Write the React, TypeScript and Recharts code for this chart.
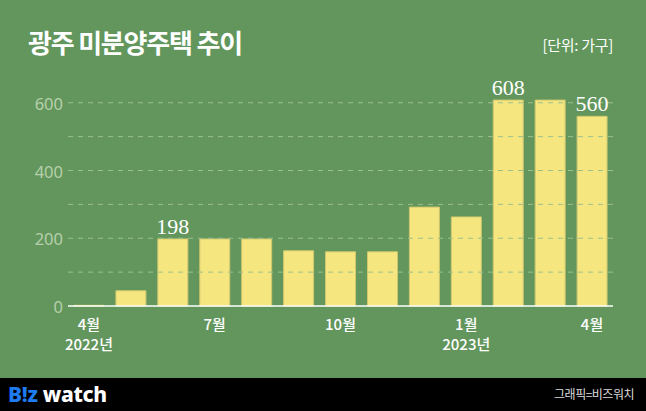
import { Bar, BarChart, LabelList, ReferenceLine, XAxis, YAxis } from "recharts";

const months = ["4월", "5월", "6월", "7월", "8월", "9월", "10월", "11월", "12월", "1월", "2월", "3월", "4월"];
const years = ["2022년", "", "", "", "", "", "", "", "", "2023년", "", "", ""];
const shownTicks = [true, false, false, true, false, false, true, false, false, true, false, false, true];
const units = [2, 45, 198, 198, 198, 163, 160, 160, 292, 263, 608, 608, 560];
const valueLabels = ["", "", "198", "", "", "", "", "", "", "", "608", "", "560"];
const gridTicks = [100, 200, 300, 400, 500, 600];
const yLabelTicks = [0, 200, 400, 600];

const data = months.map((m, i) => ({
  key: String(i),
  month: m,
  year: years[i],
  units: units[i],
  label: valueLabels[i],
}));

const BG = "#62965c";
const BAR = "#f5e680";

function MonthTick(props: any) {
  const { x, y, payload } = props;
  const i = payload.index;
  if (!shownTicks[i]) return null;
  return (
    <g>
      <text x={x} y={y + 16} textAnchor="middle" fill="#ffffff" fontSize={15} fontWeight={500}
        fontFamily="'Noto Sans CJK KR', 'Noto Sans', sans-serif">
        {months[i]}
      </text>
      {years[i] && (
        <text x={x} y={y + 36} textAnchor="middle" fill="#ffffff" fontSize={15} fontWeight={500}
          fontFamily="'Noto Sans CJK KR', 'Noto Sans', sans-serif">
          {years[i]}
        </text>
      )}
    </g>
  );
}

function ValueTick(props: any) {
  const { x, y, payload } = props;
  return (
    <text x={x + 3} y={y + 7} textAnchor="end" fill="#b7d0ab" fontSize={16.5}
      fontFamily="'Noto Sans', Roboto, sans-serif">
      {payload.value}
    </text>
  );
}

function TopLabel(props: any) {
  const { x, y, width, value } = props;
  if (!value) return null;
  return (
    <text x={x + width / 2} y={y - 5} textAnchor="middle" fill="#ffffff" fontSize={22}
      fontFamily="'Liberation Serif', 'DejaVu Serif', serif">
      {value}
    </text>
  );
}

export default function App() {
  return (
    <div style={{ position: "fixed", left: 0, top: 0, width: 646, height: 411, background: BG, overflow: "hidden" }}>
      <style>{"body{margin:0}"}</style>
      <div style={{
        position: "absolute", left: 28, top: 24, color: "#fff", fontSize: 26, fontWeight: 700,
        fontFamily: "'Noto Sans CJK KR', sans-serif", letterSpacing: -1.2, lineHeight: "36px",
      }}>
        광주 미분양주택 추이
      </div>
      <div style={{
        position: "absolute", right: 33, top: 35, color: "#fff", fontSize: 15,
        fontFamily: "'Noto Sans CJK KR', sans-serif", lineHeight: "20px", letterSpacing: -0.3,
      }}>
        [단위: 가구]
      </div>
      <div style={{ position: "absolute", left: 0, top: 0 }}>
        <BarChart width={646} height={378} data={data} margin={{ top: 96, right: 33, bottom: 12, left: 18 }} barCategoryGap={12}>
          {gridTicks.map((t) => (
            <ReferenceLine key={t} y={t} stroke="#9cc08f" strokeDasharray="5 5" strokeWidth={1} />
          ))}
          <XAxis dataKey="key" tick={<MonthTick />} interval={0} tickLine={false}
            axisLine={{ stroke: "#ffffff", strokeWidth: 1.5 }} height={60} />
          <YAxis domain={[0, 620]} ticks={yLabelTicks} tick={<ValueTick />} width={50} axisLine={false} tickLine={false} />
          <Bar dataKey="units" fill={BAR} stroke="#cfc86e" strokeWidth={1} barSize={30} isAnimationActive={false}>
            <LabelList dataKey="label" content={<TopLabel />} />
          </Bar>
        </BarChart>
      </div>
      <div style={{ position: "absolute", left: 0, top: 378, width: 646, height: 33, background: "#000" }}>
        <div style={{
          position: "absolute", left: 8, top: 3, fontSize: 21, fontWeight: 800, lineHeight: "26px",
          fontFamily: "'Noto Sans', sans-serif", letterSpacing: -0.3,
        }}>
          <span style={{ color: "#1e7cf0" }}>B!z</span>
          <span style={{ color: "#fff" }}> watch</span>
        </div>
        <div style={{
          position: "absolute", right: 12, top: 8, color: "#ddd", fontSize: 12, lineHeight: "16px",
          fontFamily: "'Noto Sans CJK KR', sans-serif", letterSpacing: -0.5,
        }}>
          그래픽=비즈워치
        </div>
      </div>
    </div>
  );
}
